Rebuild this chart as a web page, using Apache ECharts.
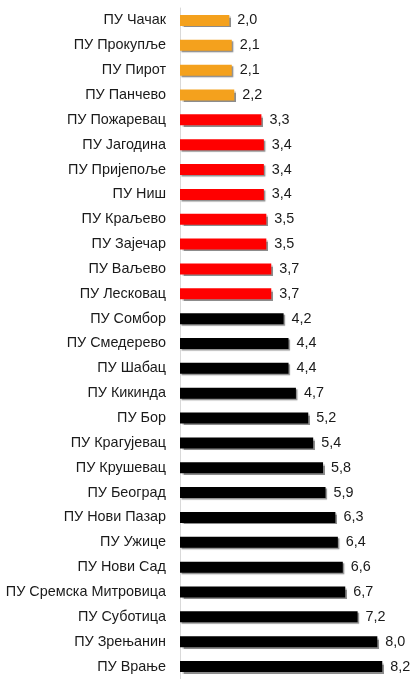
<!DOCTYPE html>
<html>
<head>
<meta charset="utf-8">
<script src="https://cdn.jsdelivr.net/npm/echarts@6/dist/echarts.min.js"></script>
<style>
  html, body { margin: 0; padding: 0; background: #fff; }
  #chart { width: 414px; height: 679px; }
</style>
</head>
<body>
<div id="chart"></div>
<script>
// Policijske uprave, odozgo nadole
const uprave = [
  "ПУ Чачак", "ПУ Прокупље", "ПУ Пирот", "ПУ Панчево", "ПУ Пожаревац",
  "ПУ Јагодина", "ПУ Пријепоље", "ПУ Ниш", "ПУ Краљево", "ПУ Зајечар",
  "ПУ Ваљево", "ПУ Лесковац", "ПУ Сомбор", "ПУ Смедерево", "ПУ Шабац",
  "ПУ Кикинда", "ПУ Бор", "ПУ Крагујевац", "ПУ Крушевац", "ПУ Београд",
  "ПУ Нови Пазар", "ПУ Ужице", "ПУ Нови Сад", "ПУ Сремска Митровица",
  "ПУ Суботица", "ПУ Зрењанин", "ПУ Врање"
];
const vrednosti = [
  2.0, 2.1, 2.1, 2.2, 3.3,
  3.4, 3.4, 3.4, 3.5, 3.5,
  3.7, 3.7, 4.2, 4.4, 4.4,
  4.7, 5.2, 5.4, 5.8, 5.9,
  6.3, 6.4, 6.6, 6.7,
  7.2, 8.0, 8.2
];

// boja po grupi
function boja(v) {
  if (v < 3) return "#F4A11D";
  if (v < 4) return "#FF0000";
  return "#000000";
}

const podaci = vrednosti.map((v) => ({
  value: v,
  itemStyle: { color: boja(v) },
}));

const myChart = echarts.init(document.getElementById("chart"));

var option = {
  animation: false,
  grid: { left: 180, top: 8, width: 222, height: 676 },
  xAxis: {
    type: "value",
    min: 0,
    max: 9,
    show: false,
  },
  yAxis: {
    type: "category",
    data: uprave,
    inverse: true,
    axisLine: { show: true, lineStyle: { color: "#d9d9d9", width: 1 } },
    axisTick: { show: false },
    axisLabel: {
      margin: 14,
      color: "#1a1a1a",
      fontFamily: "Liberation Sans",
      fontSize: 14.4,
    },
  },
  series: [
    {
      type: "bar",
      data: podaci,
      barWidth: 11,
      itemStyle: {
        shadowColor: "rgba(0,0,0,0.45)",
        shadowOffsetX: 1.5,
        shadowOffsetY: 1.5,
        shadowBlur: 1,
      },
      label: {
        show: true,
        position: "right",
        distance: 8,
        color: "#1a1a1a",
        fontFamily: "Liberation Sans",
        fontSize: 14.4,
        formatter: (p) => p.value.toFixed(1).replace(".", ","),
      },
    },
  ],
};

myChart.setOption(option);
</script>
</body>
</html>
